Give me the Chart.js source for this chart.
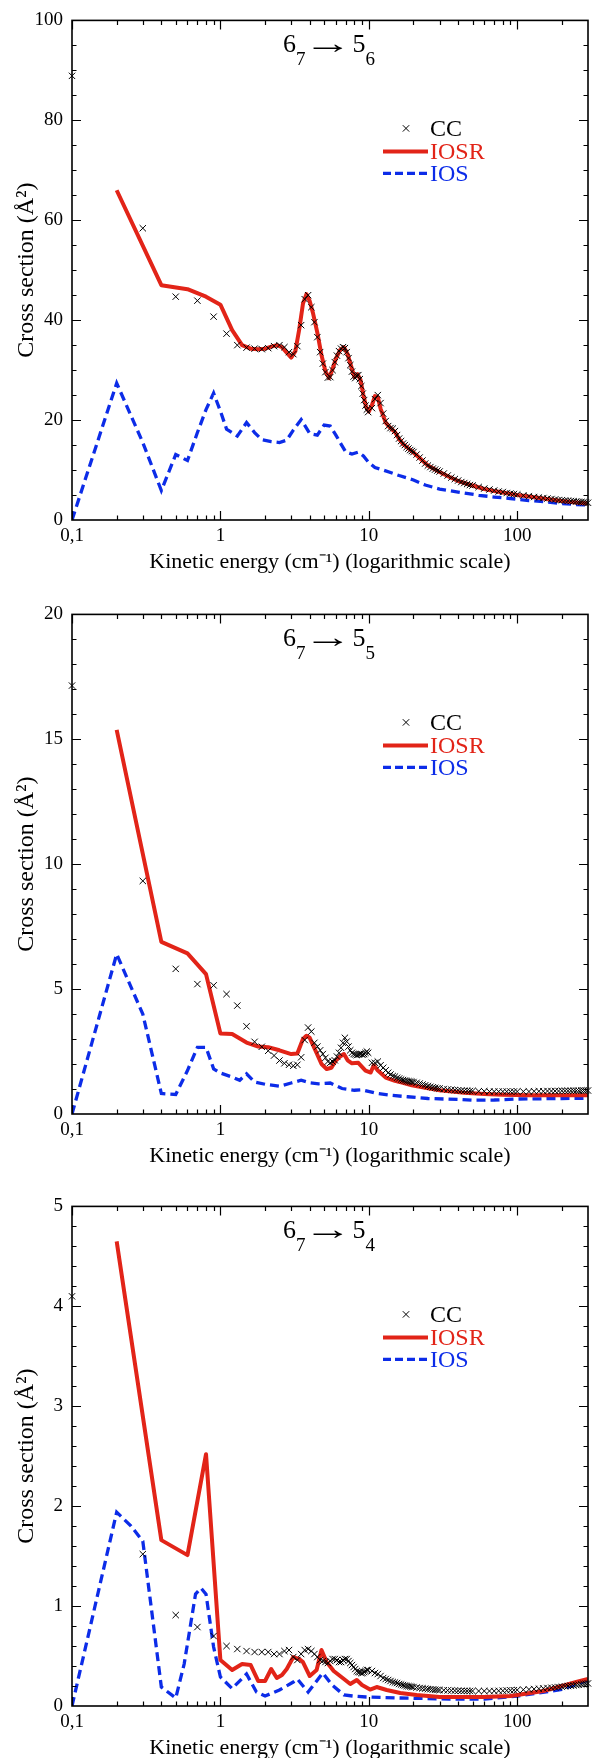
<!DOCTYPE html>
<html><head><meta charset="utf-8">
<script src="https://cdn.jsdelivr.net/npm/chart.js@4.4.0/dist/chart.umd.min.js"></script>
<style>
html,body{margin:0;padding:0;background:#fff;width:605px;height:1758px;overflow:hidden;position:relative}
canvas{position:absolute;left:0}
</style></head><body>
<canvas id="c1" width="605" height="582" style="top:0px"></canvas>
<canvas id="c2" width="605" height="582" style="top:594px"></canvas>
<canvas id="c3" width="605" height="582" style="top:1186px"></canvas>
<script>
// ---------- data ----------
const SERIES = ['CC', 'IOSR', 'IOS'];
const X_TITLE = 'Kinetic energy (cm\u207B\u00B9) (logarithmic scale)';
const Y_TITLE = 'Cross section (\u00C5\u00B2)';
const X_MAJOR = [0.1, 1, 10, 100];
const X_LABELS = ['0,1', '1', '10', '100'];
const X_MINOR = [0.2,0.3,0.4,0.5,0.6,0.7,0.8,0.9,2,3,4,5,6,7,8,9,20,30,40,50,60,70,80,90,200];
const TITLES = [['6','7','5','6'], ['6','7','5','5'], ['6','7','5','4']];
const ARROW = '\u2192';
const Y_MAX = [100, 20, 5];
const Y_STEP = [20, 5, 1];
const Y_MINOR = [5, 1, 0.2];

const CC_E = [0.1,0.3,0.5,0.7,0.9,1.1,1.3,1.5,1.7,1.9,
 2.1,2.3,2.5,2.7,2.9,3.1,3.3,3.5,3.7,3.9,
 4.1,4.3,4.5,4.7,4.9,5.1,5.3,5.5,5.7,5.9,
 6.1,6.3,6.5,6.7,6.9,7.1,7.3,7.5,7.7,7.9,
 8.1,8.3,8.5,8.7,8.9,9.1,9.3,9.5,9.7,9.9,
 10.5,11,11.5,12,12.5,13,13.5,14,14.5,15,
 15.5,16,16.5,17,17.5,18,18.5,19,19.5,20,
 21,22,23,24,25,26,27,28,29,30,
 32,34,36,38,40,42,44,46,48,50,
 55,60,65,70,75,80,85,90,95,100,
 110,120,130,140,150,160,170,180,190,200,
 210,220,230,240,250,260,270,280,290,300];

const CC_1 = [88.9,58.4,44.7,43.9,40.7,37.3,35.0,34.5,34.3,34.2,
 34.4,34.8,35.0,34.6,33.6,33.2,34.8,39.0,44.2,45.0,
 42.6,39.6,36.6,33.6,31.3,29.6,28.5,28.6,30.0,31.6,
 32.9,33.8,34.3,34.6,34.4,33.6,32.4,31.0,29.7,28.7,
 28.4,28.9,29.0,28.2,26.8,25.3,24.0,22.9,22.1,21.6,
 22.4,24.2,25.0,23.4,21.3,19.8,18.8,18.4,18.3,17.8,
 17.0,16.3,15.8,15.3,15.0,14.6,14.3,14.0,13.8,13.6,
 13.1,12.5,11.9,11.3,10.9,10.6,10.3,10.1,9.9,9.7,
 9.3,8.9,8.5,8.2,7.9,7.6,7.4,7.2,7.0,6.9,
 6.6,6.3,6.1,5.9,5.7,5.6,5.4,5.3,5.2,5.1,
 4.9,4.75,4.6,4.5,4.4,4.3,4.2,4.1,4.0,3.95,
 3.9,3.85,3.8,3.75,3.7,3.65,3.6,3.55,3.5,3.45];

const CC_2 = [17.15,9.33,5.81,5.2,5.15,4.8,4.34,3.51,2.89,2.69,
 2.53,2.34,2.14,2.03,1.97,1.93,1.97,2.27,2.96,3.46,
 3.3,2.85,2.7,2.55,2.4,2.25,2.1,2.05,2.1,2.15,
 2.3,2.45,2.65,2.85,3.05,2.9,2.7,2.55,2.45,2.4,
 2.38,2.36,2.38,2.4,2.4,2.38,2.4,2.45,2.5,2.45,
 2.05,2.05,2.1,1.95,1.85,1.75,1.65,1.58,1.52,1.5,
 1.45,1.42,1.38,1.36,1.34,1.32,1.31,1.3,1.29,1.28,
 1.25,1.22,1.18,1.15,1.12,1.09,1.07,1.05,1.03,1.02,
 1.0,0.98,0.97,0.96,0.95,0.94,0.93,0.93,0.92,0.92,
 0.91,0.91,0.9,0.9,0.9,0.9,0.9,0.9,0.9,0.9,
 0.9,0.9,0.91,0.91,0.91,0.92,0.92,0.92,0.92,0.93,
 0.93,0.93,0.93,0.93,0.93,0.93,0.94,0.94,0.94,0.94];

const CC_3 = [4.10,1.52,0.91,0.79,0.70,0.60,0.57,0.55,0.54,0.54,
 0.54,0.52,0.52,0.55,0.56,0.49,0.46,0.52,0.56,0.57,
 0.55,0.52,0.49,0.46,0.45,0.44,0.43,0.45,0.47,0.47,
 0.46,0.44,0.44,0.46,0.47,0.47,0.45,0.43,0.41,0.39,
 0.37,0.35,0.34,0.34,0.33,0.33,0.34,0.35,0.36,0.36,
 0.35,0.33,0.32,0.30,0.28,0.27,0.26,0.25,0.24,0.235,
 0.23,0.22,0.215,0.21,0.205,0.2,0.198,0.195,0.192,0.19,
 0.185,0.18,0.177,0.174,0.17,0.168,0.165,0.163,0.161,0.16,
 0.158,0.156,0.155,0.154,0.153,0.152,0.151,0.15,0.15,0.15,
 0.15,0.15,0.15,0.15,0.152,0.153,0.155,0.157,0.158,0.16,
 0.163,0.166,0.17,0.173,0.176,0.18,0.183,0.186,0.19,0.193,
 0.196,0.2,0.203,0.206,0.21,0.213,0.216,0.22,0.223,0.226];

const IOSR_E1 = [0.2,0.4,0.6,0.8,1.0,1.2,1.4,1.6,1.8,2.0,2.2,2.4,2.6,2.8,3.0,3.2,3.4,3.6,3.8,4.0,4.2,
 4.5,4.8,5.1,5.4,5.7,6.0,6.4,6.8,7.2,7.6,8.0,8.4,8.8,9.2,9.6,10,10.5,11,11.5,12,
 13,14,15,16,17,18,20,22,25,30,35,40,50,60,70,80,100,120,150,200,250,300];
const IOSR_1 = [66,47.0,46.2,44.7,43.1,38.0,35.0,34.3,34.2,34.3,34.7,35.0,34.6,33.5,32.5,33.8,38.2,43.3,45.2,43.8,41.5,
 37.5,33.0,29.8,28.4,30.2,32.3,34.0,34.6,33.2,30.8,28.6,29.2,28.0,25.0,22.6,21.7,23.0,24.8,24.6,22.3,
 19.5,18.4,17.6,16.2,15.2,14.6,13.5,12.4,10.9,9.6,8.6,7.8,6.9,6.2,5.8,5.5,5.0,4.7,4.3,3.8,3.5,3.3];
const IOS_E1 = [0.1,0.2,0.3,0.4,0.5,0.6,0.7,0.8,0.9,1.0,1.1,1.3,1.5,1.7,1.9,2.2,2.5,2.8,3.1,3.5,
 4.0,4.5,5.0,5.5,6.0,6.5,7.0,7.7,8.5,9.2,10,11,12.5,14,16,20,24,30,40,55,70,90,120,160,200,250,300];
const IOS_1 = [0,27.4,15.5,5.9,13.1,11.9,17.5,22.1,25.4,21.8,18.2,16.8,19.5,17.5,16.1,15.7,15.5,16.0,18.0,20.1,
 17.3,17.0,19.0,18.8,17.0,15.2,13.6,13.2,13.6,12.8,11.5,10.5,10.0,9.5,8.9,8.0,7.0,6.2,5.6,4.95,4.6,4.3,3.9,3.6,3.3,3.1,3.0];

const IOSR_E2 = [0.2,0.4,0.6,0.8,1.0,1.2,1.5,1.8,2.1,2.5,3.0,3.3,3.6,3.8,4.0,4.4,4.8,5.2,5.6,6.0,
 6.4,6.8,7.2,7.7,8.5,9.5,10.3,10.8,11.5,13,15,17,19.5,24,30,44,60,80,120,200,300];
const IOSR_2 = [15.38,6.89,6.43,5.6,3.22,3.2,2.86,2.7,2.67,2.55,2.4,2.42,3.0,3.13,3.05,2.5,2.0,1.8,1.85,2.14,
 2.3,2.4,2.15,2.03,2.05,1.74,1.66,1.95,1.74,1.46,1.33,1.25,1.15,1.05,0.95,0.85,0.8,0.77,0.75,0.75,0.75];
const IOS_E2 = [0.1,0.2,0.3,0.4,0.5,0.6,0.7,0.8,0.9,1.0,1.2,1.35,1.5,1.7,2.0,2.5,3.0,3.5,4.0,4.6,
 5.5,6.6,8.0,9.0,11.4,14,18.3,25,42,50,70,100,150,200,300];
const IOS_2 = [0,6.4,4.0,0.82,0.78,1.74,2.67,2.67,1.81,1.64,1.48,1.35,1.61,1.28,1.19,1.11,1.24,1.35,1.25,1.21,
 1.24,1.02,0.95,0.97,0.82,0.75,0.69,0.62,0.58,0.55,0.56,0.6,0.61,0.62,0.63];

const IOSR_E3 = [0.2,0.4,0.6,0.8,1.0,1.2,1.4,1.6,1.8,2.0,2.2,2.4,2.6,2.8,3.1,3.4,3.6,4.0,4.45,4.8,
 5.2,5.8,6.8,7.5,8.3,9.0,10.2,11.3,13.2,16.3,21,30,60,90,100,150,200,250,300];
const IOSR_3 = [4.65,1.66,1.51,2.52,0.46,0.36,0.42,0.41,0.25,0.25,0.37,0.28,0.31,0.37,0.49,0.47,0.44,0.30,0.36,0.56,
 0.44,0.35,0.27,0.22,0.26,0.21,0.165,0.19,0.16,0.13,0.11,0.09,0.09,0.10,0.11,0.15,0.2,0.24,0.27];
const IOS_E3 = [0.1,0.2,0.25,0.3,0.4,0.5,0.57,0.68,0.74,0.8,0.9,1.0,1.2,1.5,1.75,2.0,2.5,3.1,3.3,3.9,
 4.9,5.65,6.8,7.8,9.6,16.3,35,60,88,100,200,300];
const IOS_3 = [0,1.94,1.8,1.65,0.19,0.08,0.42,1.12,1.18,1.12,0.59,0.29,0.175,0.32,0.14,0.1,0.16,0.24,0.27,0.14,
 0.33,0.21,0.11,0.1,0.09,0.08,0.07,0.07,0.09,0.1,0.165,0.26];

// ---------- styling ----------
const FONT = '"Liberation Serif", "Times New Roman", Times, serif';
const RED = 'rgb(226,36,24)';
const BLUE = 'rgb(12,44,232)';

function pts(E, V) { return E.map((e, i) => ({x: e, y: V[i]})); }

const frame = {
  id: 'frame',
  afterDraw(chart) {
    const ctx = chart.ctx, ca = chart.chartArea;
    const xs = chart.scales.x, ys = chart.scales.y;
    const o = chart.options.plugins.frame;
    ctx.save();
    ctx.strokeStyle = '#000';
    ctx.lineWidth = 1.2;
    ctx.beginPath();
    const tick = (v, len) => {
      const px = Math.round(xs.getPixelForValue(v)) + 0.5;
      ctx.moveTo(px, ca.bottom); ctx.lineTo(px, ca.bottom - len);
      ctx.moveTo(px, ca.top); ctx.lineTo(px, ca.top + len);
    };
    X_MAJOR.forEach(v => tick(v, 9));
    X_MINOR.forEach(v => tick(v, 4.5));
    const n = Math.round(o.max / o.minor);
    const every = Math.round(o.step / o.minor);
    for (let i = 1; i < n; i++) {
      const v = i * o.minor;
      const py = Math.round(ys.getPixelForValue(v)) + 0.5;
      const len = (i % every === 0) ? 9 : 4.5;
      ctx.moveTo(ca.left, py); ctx.lineTo(ca.left + len, py);
      ctx.moveTo(ca.right, py); ctx.lineTo(ca.right - len, py);
    }
    ctx.stroke();
    ctx.lineWidth = 1.6;
    ctx.strokeRect(ca.left, ca.top, ca.right - ca.left, ca.bottom - ca.top);
    ctx.restore();
  }
};

const panelTitle = {
  id: 'panelTitle',
  afterDraw(chart) {
    const ctx = chart.ctx, ca = chart.chartArea;
    const p = chart.options.plugins.panelTitle.parts;
    ctx.save();
    ctx.fillStyle = '#000';
    ctx.textBaseline = 'alphabetic';
    ctx.textAlign = 'left';
    const big = '26px ' + FONT, small = '19px ' + FONT, arrFont = '30px ' + FONT;
    ctx.font = big;
    const wA = ctx.measureText(p[0]).width, wB = ctx.measureText(p[2]).width;
    ctx.font = arrFont;
    const am = ctx.measureText(ARROW);
    const inkL = am.actualBoundingBoxLeft || 0, inkR = am.actualBoundingBoxRight || am.width;
    const ink = Math.max(1, inkL + inkR);
    const wArr = 29, sx = wArr / ink;
    ctx.font = small;
    const wAs = ctx.measureText(p[1]).width, wBs = ctx.measureText(p[3]).width;
    const g1 = 8, g2 = 10;
    const total = wA + wAs + g1 + wArr + g2 + wB + wBs;
    let x = 329 - total / 2;
    const y = ca.top + 32, ysub = ca.top + 45;
    ctx.font = big; ctx.fillText(p[0], x, y); x += wA;
    ctx.font = small; ctx.fillText(p[1], x, ysub); x += wAs + g1;
    ctx.font = arrFont;
    ctx.save(); ctx.translate(x + inkL * sx, y + 1); ctx.scale(sx, 1); ctx.fillText(ARROW, 0, 0); ctx.restore();
    x += wArr + g2;
    ctx.font = big;
    ctx.fillText(p[2], x, y); x += wB;
    ctx.font = small; ctx.fillText(p[3], x, ysub);
    ctx.restore();
  }
};

const customLegend = {
  id: 'customLegend',
  afterDraw(chart) {
    const ctx = chart.ctx, ca = chart.chartArea;
    const ds = chart.data.datasets;
    ctx.save();
    ctx.font = '24px ' + FONT;
    ctx.textBaseline = 'middle';
    ctx.textAlign = 'left';
    const offs = [108, 131, 153];
    const tx = 430, mx = 406, l0 = 383, l1 = 428;
    // CC
    let y = ca.top + offs[0];
    ctx.strokeStyle = '#000'; ctx.lineWidth = 1;
    ctx.beginPath();
    ctx.moveTo(mx - 3.2, y - 3.2); ctx.lineTo(mx + 3.2, y + 3.2);
    ctx.moveTo(mx - 3.2, y + 3.2); ctx.lineTo(mx + 3.2, y - 3.2);
    ctx.stroke();
    ctx.fillStyle = '#000'; ctx.fillText(ds[0].label, tx, y + 1);
    // IOSR
    y = ca.top + offs[1];
    ctx.strokeStyle = RED; ctx.lineWidth = 4; ctx.setLineDash([]);
    ctx.beginPath(); ctx.moveTo(l0, y); ctx.lineTo(l1, y); ctx.stroke();
    ctx.fillStyle = RED; ctx.fillText(ds[1].label, tx, y + 1);
    // IOS
    y = ca.top + offs[2];
    ctx.strokeStyle = BLUE; ctx.lineWidth = 3.3; ctx.setLineDash([8, 4]);
    ctx.beginPath(); ctx.moveTo(l0, y); ctx.lineTo(l1 + 1, y); ctx.stroke();
    ctx.setLineDash([]);
    ctx.fillStyle = BLUE; ctx.fillText(ds[2].label, tx, y + 1);
    ctx.restore();
  }
};

const PANELS = [
  {id: 'c1', cc: CC_1, iosrE: IOSR_E1, iosr: IOSR_1, iosE: IOS_E1, ios: IOS_1},
  {id: 'c2', cc: CC_2, iosrE: IOSR_E2, iosr: IOSR_2, iosE: IOS_E2, ios: IOS_2},
  {id: 'c3', cc: CC_3, iosrE: IOSR_E3, iosr: IOSR_3, iosE: IOS_E3, ios: IOS_3}
];

PANELS.forEach((P, k) => {
  new Chart(document.getElementById(P.id), {
    type: 'scatter',
    data: {
      datasets: [
        {label: SERIES[0], data: pts(CC_E, P.cc), showLine: false, pointStyle: 'crossRot',
         pointRadius: 4.5, pointBorderColor: '#000', pointBorderWidth: 1, borderColor: '#000',
         backgroundColor: '#000', order: 0, clip: 8},
        {label: SERIES[1], data: pts(P.iosrE, P.iosr), showLine: true, pointRadius: 0,
         borderColor: RED, borderWidth: 4, tension: 0, order: 1, borderJoinStyle: 'round'},
        {label: SERIES[2], data: pts(P.iosE, P.ios), showLine: true, pointRadius: 0,
         borderColor: BLUE, borderWidth: 3.3, borderDash: [9, 5], tension: 0, order: 2}
      ]
    },
    options: {
      responsive: false,
      animation: false,
      events: [],
      layout: {padding: {top: 15, right: 17, left: 0, bottom: 0}},
      scales: {
        x: {
          type: 'logarithmic', min: 0.1, max: 300, position: 'bottom',
          afterBuildTicks: s => { s.ticks = X_MAJOR.map(v => ({value: v})); },
          afterFit: s => { s.height = 62; },
          grid: {display: false, drawTicks: false},
          border: {display: false},
          ticks: {autoSkip: false, maxRotation: 0, padding: 5, color: '#000',
            font: {family: FONT, size: 19},
            callback: v => { const i = X_MAJOR.indexOf(v); return i >= 0 ? X_LABELS[i] : ''; }},
          title: {display: true, text: X_TITLE, color: '#000', font: {family: FONT, size: 22},
            padding: {top: 0, bottom: 7}}
        },
        y: {
          type: 'linear', min: 0, max: Y_MAX[k], position: 'left',
          afterFit: s => { s.width = 72; },
          grid: {display: false, drawTicks: false},
          border: {display: false},
          ticks: {stepSize: Y_STEP[k], padding: 9, color: '#000', font: {family: FONT, size: 19}},
          title: {display: true, text: Y_TITLE, color: '#000', font: {family: FONT, size: 24},
            padding: {top: 12, bottom: 0}}
        }
      },
      plugins: {
        legend: {display: false},
        tooltip: {enabled: false},
        frame: {max: Y_MAX[k], step: Y_STEP[k], minor: Y_MINOR[k]},
        panelTitle: {parts: TITLES[k]}
      }
    },
    plugins: [frame, panelTitle, customLegend]
  });
});
</script>
</body></html>
